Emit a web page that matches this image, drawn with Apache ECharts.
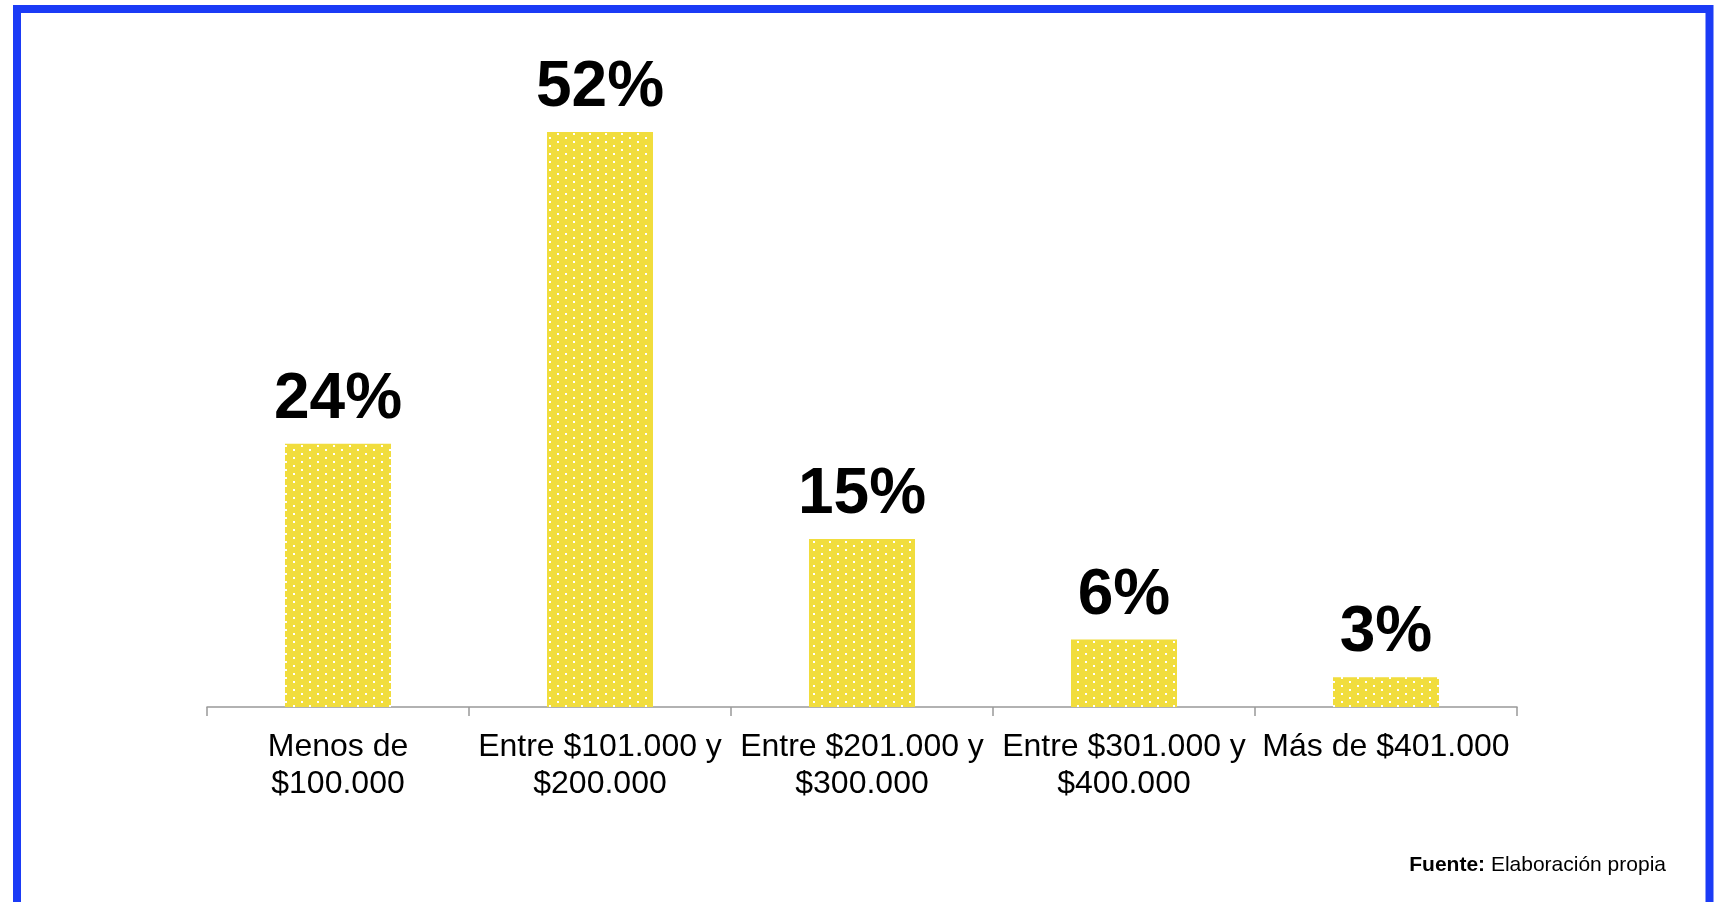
<!DOCTYPE html>
<html>
<head>
<meta charset="utf-8">
<script src="https://cdn.jsdelivr.net/npm/echarts@6/dist/echarts.min.js"></script>
<style>
  html, body { margin: 0; padding: 0; background: #fff; }
  #chart { width: 1721px; height: 902px; }
</style>
</head>
<body>
<div id="chart"></div>
<script>
// rangos de ingreso
const categorias = [
    'Menos de\n$100.000',
    'Entre $101.000 y\n$200.000',
    'Entre $201.000 y\n$300.000',
    'Entre $301.000 y\n$400.000',
    'Más de $401.000'
]
// porcentajes
const porcentajes = [23.8, 52, 15.2, 6.1, 2.7]

const fuente = 'Arial, "Liberation Sans", sans-serif'

// trama amarilla con puntos blancos
const trama = document.createElement('canvas')
trama.width = 16
trama.height = 8
const ctx = trama.getContext('2d')
ctx.fillStyle = '#f1dd3d'
ctx.fillRect(0, 0, 16, 8)
ctx.fillStyle = '#ffffff'
ctx.fillRect(5, 1, 2, 2)
ctx.fillRect(13, 5, 2, 2)

const myEcharts = echarts.init(document.getElementById('chart'))
const option = {
    backgroundColor: '#fff',
    animation: false,
    title: {
        text: '{b|Fuente:} {n|Elaboración propia}',
        right: 50,
        top: 850,
        textStyle: {
            fontWeight: 'normal',
            fontFamily: fuente,
            fontSize: 21,
            rich: {
                b: { fontFamily: fuente, fontSize: 21, fontWeight: 'bold', color: '#000' },
                n: { fontFamily: fuente, fontSize: 21, fontWeight: 'normal', color: '#000' }
            }
        }
    },
    grid: {
        left: 207,
        right: 204,
        top: 43.5,
        bottom: 195
    },
    xAxis: {
        type: 'category',
        data: categorias,
        axisLine: { lineStyle: { color: '#999', width: 1.5 } },
        axisTick: { show: true, length: 9, interval: 0, lineStyle: { color: '#999', width: 1.5 } },
        axisLabel: {
            interval: 0,
            margin: 22,
            color: '#000',
            fontFamily: fuente,
            fontSize: 32,
            lineHeight: 37
        }
    },
    yAxis: {
        type: 'value',
        min: 0,
        max: 60,
        show: false,
        splitLine: { show: false }
    },
    series: [{
        type: 'bar',
        data: porcentajes,
        barWidth: 106,
        itemStyle: { color: { image: trama, repeat: 'repeat' } },
        label: {
            show: true,
            position: 'top',
            distance: 11.5,
            color: '#000',
            fontFamily: fuente,
            fontWeight: 'bold',
            fontSize: 64,
            formatter: (p) => Math.round(p.value) + '%'
        }
    }],
    graphic: [{
        type: 'rect',
        shape: { x: 17, y: 9, width: 1692.5, height: 1000 },
        style: { fill: 'none', stroke: '#1b3bf6', lineWidth: 8 },
        silent: true
    }]
}
myEcharts.setOption(option)
</script>
</body>
</html>
